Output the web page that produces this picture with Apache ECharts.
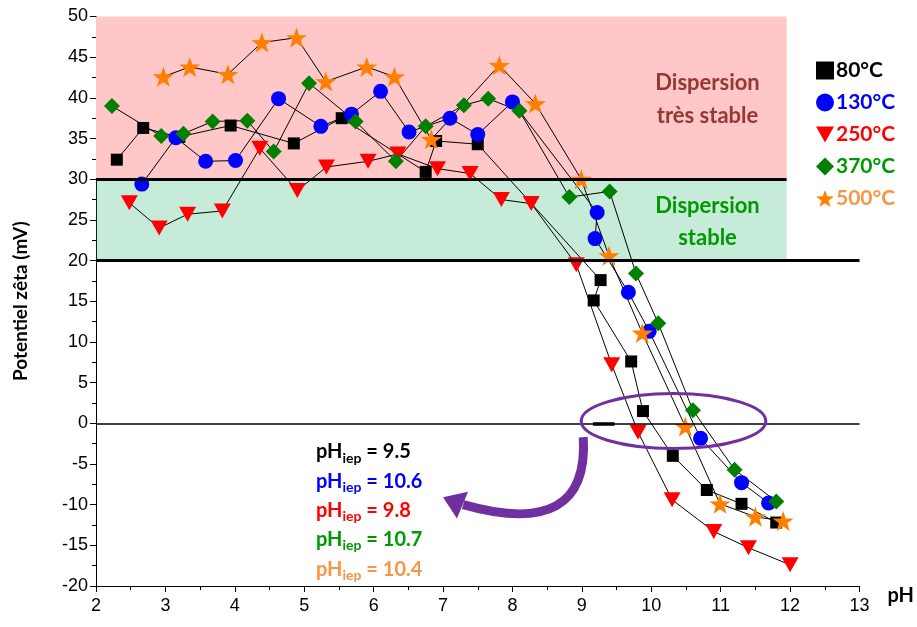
<!DOCTYPE html>
<html><head><meta charset="utf-8">
<script src="https://cdn.jsdelivr.net/npm/echarts@6/dist/echarts.min.js"></script>
<style>html,body{margin:0;padding:0;background:#fff}#c{width:917px;height:627px}</style>
</head><body><div id="c"></div>
<script>
// ---------- data ----------
const seriesNames = ['80°C','130°C','250°C','370°C','500°C'];
const pH80  = [2.30,2.68,3.20,3.94,4.85,5.54,6.75,6.90,7.50,9.27,9.17,9.71,9.88,10.31,10.80,11.30,11.80];
const z80   = [32.4,36.3,35.2,36.6,34.4,37.5,30.9,34.7,34.3,17.6,15.1,7.6,1.5,-4.0,-8.2,-9.9,-12.2];
const pH130 = [2.66,3.15,3.58,4.01,4.63,5.24,5.68,6.10,6.51,7.10,7.50,8.00,9.22,9.19,9.67,9.97,10.71,11.30,11.69];
const z130  = [29.4,35.1,32.2,32.3,39.9,36.5,38.0,40.8,35.8,37.5,35.5,39.5,25.9,22.7,16.1,11.3,-1.85,-7.3,-9.8];
const pH250 = [2.48,2.91,3.32,3.82,4.36,4.90,5.32,5.92,6.35,6.92,7.39,7.84,8.27,8.92,9.43,9.81,10.30,10.90,11.40,12.00];
const z250  = [27.1,24.0,25.7,26.1,33.8,28.6,31.5,32.2,33.1,31.3,30.7,27.5,27.0,19.5,7.2,-1.1,-9.4,-13.3,-15.3,-17.4];
const pH370 = [2.23,2.94,3.26,3.68,4.18,4.56,5.07,5.74,6.32,6.75,7.30,7.65,8.10,8.82,9.40,9.78,10.10,10.60,11.20,11.80];
const z370  = [39.0,35.3,35.6,37.1,37.2,33.4,41.8,37.1,32.2,36.5,39.1,39.9,38.4,27.8,28.5,18.4,12.3,1.6,-5.7,-9.6];
const pH500 = [2.97,3.35,3.90,4.39,4.89,5.31,5.90,6.30,6.83,7.81,8.33,8.99,9.39,9.87,10.49,10.99,11.50,11.90];
const z500  = [42.6,43.8,42.9,46.8,47.4,42.0,43.8,42.6,34.9,44.0,39.3,30.0,20.6,11.1,-0.4,-9.9,-11.5,-12.0];
const pHiepValues = ['9.5','10.6','9.8','10.7','10.4'];
const zoneLabels = ['Dispersion\ntrès stable','Dispersion\nstable'];
const xTicks = {min:2,max:13,interval:1};
const yTicks = {min:-20,max:50,interval:5};

// ---------- styles ----------
const markerColors = ['#000000','#0000FF','#FF0000','#008000','#FF8000'];
const textColors   = ['#000000','#0000FF','#FF0000','#009900','#F79646'];
const starPath = 'path://M0,-10L2.35,-3.24L9.51,-3.09L3.80,1.24L5.88,8.09L0,4L-5.88,8.09L-3.80,1.24L-9.51,-3.09L-2.35,-3.24Z';
const downTri = 'path://M0,0L20,0L10,18Z';
const symbols = ['rect','circle','triangle','diamond',starPath];
const legendIcons = ['rect','circle',downTri,'diamond',starPath];
const symSizes = [12,15,[17,15],[16,16],[21,20]];
const symRot = [0,0,180,0,0];
const BOLD = 'Lato, "Open Sans", sans-serif';
const TICKFONT = '"Liberation Sans", Arial, sans-serif';

const xs = [pH80,pH130,pH250,pH370,pH500];
const ys = [z80,z130,z250,z370,z500];

const chart = echarts.init(document.getElementById('c'), null, {renderer:'canvas'});

const dataSeries = seriesNames.map((n,i)=>({
  name:n, type:'line', z:3,
  data: xs[i].map((x,k)=>[x, ys[i][k]]),
  symbol:symbols[i], symbolSize:symSizes[i], symbolRotate:symRot[i],
  showAllSymbol:true,
  lineStyle:{color:'#000', width:1},
  itemStyle:{color:markerColors[i], opacity:1},
  emphasis:{disabled:true}, animation:false
}));

const option = {
  animation:false,
  grid:{left:96, right:57, top:16.5, bottom:41, containLabel:false},
  xAxis:{type:'value', min:xTicks.min, max:xTicks.max, interval:xTicks.interval,
    name:'pH', nameLocation:'end', nameGap:28,
    nameTextStyle:{fontFamily:BOLD, fontWeight:'bold', fontSize:20, color:'#000', verticalAlign:'top', align:'left'},
    axisLine:{onZero:false, lineStyle:{color:'#000', width:1}},
    axisTick:{length:6, lineStyle:{color:'#000'}},
    minorTick:{show:true, splitNumber:2, length:4, lineStyle:{color:'#000'}},
    splitLine:{show:false},
    axisLabel:{fontFamily:TICKFONT, fontSize:18, color:'#000', margin:11}
  },
  yAxis:{type:'value', min:yTicks.min, max:yTicks.max, interval:yTicks.interval,
    name:'Potentiel zêta (mV)', nameLocation:'middle', nameGap:66, nameRotate:90,
    nameTextStyle:{fontFamily:BOLD, fontWeight:'bold', fontSize:19, color:'#000'},
    axisLine:{show:true, lineStyle:{color:'#000', width:1}},
    axisTick:{length:6, lineStyle:{color:'#000'}},
    minorTick:{show:true, splitNumber:2, length:4, lineStyle:{color:'#000'}},
    splitLine:{show:false},
    axisLabel:{fontFamily:TICKFONT, fontSize:18, color:'#000', margin:8}
  },
  legend:{orient:'vertical', left:811, top:55, itemWidth:18, itemHeight:18, itemGap:11,
    selectedMode:false,
    textStyle:{fontFamily:BOLD, fontWeight:'bold', fontSize:21, lineHeight:20, padding:[0,0,0,-3]},
    data: seriesNames.map((n,i)=>({name:n, icon:legendIcons[i],
      itemStyle:{color:markerColors[i]}, textStyle:{color:textColors[i]}}))
  },
  series:[
    {type:'line', name:'bandPink', z:1, data:[], silent:true,
      markArea:{silent:true, itemStyle:{color:'#FFC7C7'},
        data:[[{coord:[xTicks.min,30]},{coord:[11.95,50]}]]}},
    ...dataSeries,
    {type:'line', name:'bandGreen', z:5, data:[], silent:true,
      markArea:{silent:true, itemStyle:{color:'rgba(13,170,89,0.235)'},
        data:[[{coord:[xTicks.min,20]},{coord:[11.95,30]}]]}},
    {type:'line', name:'refLines', z:6, data:[], silent:true,
      markLine:{silent:true, symbol:['none','none'], label:{show:false},
        lineStyle:{type:'solid', color:'#000'},
        data:[
          [{coord:[xTicks.min,30], lineStyle:{width:3}},{coord:[11.95,30]}],
          [{coord:[xTicks.min,20], lineStyle:{width:3}},{coord:[xTicks.max,20]}],
          [{coord:[xTicks.min,0], lineStyle:{width:1.6}},{coord:[xTicks.max,0]}],
          [{coord:[9.16,0], lineStyle:{width:3.5}},{coord:[9.47,0]}]
        ]}}
  ]
};
chart.setOption(option);

// ---------- annotations (anchored in data units) ----------
const P = (x,y)=>chart.convertToPixel({gridIndex:0},[x,y]);
const ellipseC = P(10.32, 0.28);
const ellipseR = [P(10.32+1.33,0)[0]-ellipseC[0], P(0,0)[1]-P(0,3.38)[1]];
const aS = P(9.02,-1.7), aC = P(9.11,-14.4), aE = P(7.29,-10.0);
const tip = P(7.00,-9.1), b1 = P(7.36,-8.4), b2 = P(7.20,-11.7);

const cv = document.createElement('canvas').getContext('2d');
function tw(txt, size){cv.font = 'bold '+size+'px '+BOLD; return cv.measureText(txt).width;}

const graphics = [];
graphics.push({type:'ellipse', z:20, silent:true,
  shape:{cx:ellipseC[0], cy:ellipseC[1], rx:ellipseR[0], ry:ellipseR[1]},
  style:{fill:null, stroke:'#7030A0', lineWidth:3}});
graphics.push({type:'bezierCurve', z:20, silent:true,
  shape:{x1:aS[0], y1:aS[1], cpx1:aC[0], cpy1:aC[1], x2:aE[0], y2:aE[1]},
  style:{fill:null, stroke:'#7030A0', lineWidth:9}});
graphics.push({type:'polygon', z:20, silent:true,
  shape:{points:[tip,b1,b2]}, style:{fill:'#7030A0'}});

// zone labels
const zc1 = P(10.81, 39.8), zc2 = P(10.81, 24.74);
graphics.push({type:'text', z:20, silent:true, x:zc1[0], y:zc1[1],
  style:{text:zoneLabels[0], fill:'#953735', font:'bold 22px '+BOLD, align:'center', verticalAlign:'middle', lineHeight:33}});
graphics.push({type:'text', z:20, silent:true, x:zc2[0], y:zc2[1],
  style:{text:zoneLabels[1], fill:'#009900', font:'bold 22px '+BOLD, align:'center', verticalAlign:'middle', lineHeight:32}});

// pH_iep labels
const lbl0 = P(5.17, -3.53);
const rowGap = 29.3;
pHiepValues.forEach((v,i)=>{
  const x0 = lbl0[0], y0 = lbl0[1] + i*rowGap;
  const w1 = tw('pH',20), w2 = tw('iep',14);
  const f = textColors[i];
  graphics.push({type:'text', z:20, silent:true, x:x0, y:y0,
    style:{text:'pH', fill:f, font:'bold 20px '+BOLD, verticalAlign:'middle'}});
  graphics.push({type:'text', z:20, silent:true, x:x0+w1, y:y0+6,
    style:{text:'iep', fill:f, font:'bold 14px '+BOLD, verticalAlign:'middle'}});
  graphics.push({type:'text', z:20, silent:true, x:x0+w1+w2, y:y0,
    style:{text:' = '+v, fill:f, font:'bold 20px '+BOLD, verticalAlign:'middle'}});
});
chart.setOption({graphic:graphics});
</script></body></html>
